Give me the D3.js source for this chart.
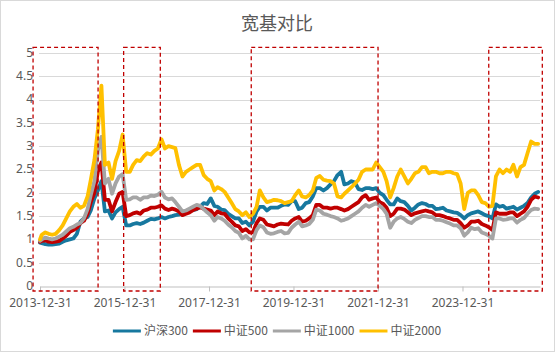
<!DOCTYPE html>
<html>
<head>
<meta charset="utf-8">
<script src="https://cdn.jsdelivr.net/npm/d3@7"></script>
<style>
  body { margin: 0; background: #fff; }
  svg { display: block; font-family: "Noto Sans CJK SC", "Noto Sans", sans-serif; }
  .num { font-family: "Noto Sans", sans-serif; font-size: 12px; }
</style>
</head>
<body>
<svg id="chart" width="555" height="352"></svg>
<script>
// monthly samples: first point 2013-12-31, then the 15th of each month to 2025-10
const dates = [new Date(2013, 11, 31)];
for (let yr = 2014; yr <= 2025; yr++) {
  for (let mo = 0; mo < 12; mo++) {
    if (yr === 2025 && mo > 9) break;
    dates.push(new Date(yr, mo, 15));
  }
}

const hs300 = [0.93,
  0.92, 0.90, 0.89, 0.89, 0.90, 0.91, 0.95, 0.98, 1.00, 1.02, 1.12, 1.38,
  1.45, 1.48, 1.62, 1.88, 2.05, 2.25, 1.60, 1.62, 1.45, 1.58, 1.65, 1.70,
  1.30, 1.30, 1.33, 1.35, 1.33, 1.36, 1.40, 1.44, 1.43, 1.45, 1.48, 1.45,
  1.48, 1.50, 1.52, 1.53, 1.55, 1.60, 1.63, 1.63, 1.65, 1.70, 1.78, 1.76,
  1.88, 1.72, 1.70, 1.64, 1.63, 1.55, 1.50, 1.45, 1.45, 1.35, 1.38, 1.30,
  1.38, 1.60, 1.70, 1.70, 1.62, 1.68, 1.68, 1.68, 1.72, 1.75, 1.74, 1.82,
  1.82, 1.65, 1.68, 1.78, 1.80, 1.92, 2.10, 2.10, 2.05, 2.10, 2.18, 2.25,
  2.38, 2.45, 2.18, 2.20, 2.25, 2.22, 2.08, 2.06, 2.10, 2.10, 2.08, 2.10,
  2.00, 1.95, 1.85, 1.75, 1.75, 1.88, 1.82, 1.80, 1.72, 1.62, 1.68, 1.75,
  1.78, 1.76, 1.72, 1.72, 1.65, 1.66, 1.68, 1.62, 1.60, 1.58, 1.57, 1.52,
  1.45, 1.52, 1.56, 1.58, 1.60, 1.56, 1.52, 1.50, 1.45, 1.75, 1.70, 1.72,
  1.66, 1.68, 1.70, 1.64, 1.68, 1.72, 1.78, 1.90, 1.98, 2.02];

const csi500 = [0.95,
  0.97, 0.98, 0.95, 0.94, 0.95, 0.97, 1.02, 1.08, 1.16, 1.20, 1.25, 1.35,
  1.40, 1.55, 1.80, 2.00, 2.45, 2.65, 1.85, 1.85, 1.60, 1.80, 1.98, 2.02,
  1.50, 1.52, 1.56, 1.58, 1.55, 1.62, 1.64, 1.68, 1.68, 1.70, 1.73, 1.66,
  1.63, 1.66, 1.64, 1.60, 1.52, 1.55, 1.58, 1.63, 1.66, 1.69, 1.66, 1.64,
  1.62, 1.52, 1.60, 1.56, 1.55, 1.45, 1.38, 1.30, 1.28, 1.18, 1.22, 1.15,
  1.15, 1.35, 1.45, 1.42, 1.32, 1.30, 1.28, 1.32, 1.34, 1.33, 1.32, 1.40,
  1.45, 1.48, 1.38, 1.40, 1.45, 1.52, 1.74, 1.74, 1.68, 1.68, 1.66, 1.68,
  1.68, 1.65, 1.62, 1.65, 1.70, 1.75, 1.80, 1.90, 1.95, 1.85, 1.88, 1.90,
  1.80, 1.76, 1.68, 1.50, 1.55, 1.66, 1.66, 1.64, 1.58, 1.52, 1.56, 1.58,
  1.60, 1.62, 1.60, 1.58, 1.52, 1.52, 1.50, 1.47, 1.45, 1.42, 1.42, 1.35,
  1.25, 1.30, 1.38, 1.38, 1.40, 1.33, 1.30, 1.26, 1.20, 1.58, 1.55, 1.55,
  1.55, 1.58, 1.58, 1.50, 1.55, 1.60, 1.70, 1.85, 1.92, 1.90];

const csi1000 = [0.97,
  1.00, 1.04, 1.02, 1.00, 1.02, 1.06, 1.10, 1.17, 1.24, 1.27, 1.32, 1.35,
  1.45, 1.65, 1.95, 2.25, 2.90, 3.20, 2.20, 2.30, 1.98, 2.20, 2.35, 2.40,
  1.85, 1.86, 1.90, 1.90, 1.85, 1.90, 1.90, 1.94, 1.93, 1.96, 2.02, 1.90,
  1.86, 1.88, 1.80, 1.70, 1.60, 1.62, 1.66, 1.70, 1.74, 1.72, 1.65, 1.58,
  1.52, 1.40, 1.48, 1.45, 1.40, 1.32, 1.26, 1.18, 1.14, 1.02, 1.08, 1.00,
  1.00, 1.20, 1.30, 1.26, 1.15, 1.12, 1.13, 1.16, 1.18, 1.13, 1.14, 1.25,
  1.32, 1.38, 1.28, 1.30, 1.33, 1.42, 1.64, 1.62, 1.55, 1.53, 1.50, 1.48,
  1.45, 1.40, 1.42, 1.45, 1.50, 1.55, 1.60, 1.68, 1.74, 1.70, 1.74, 1.78,
  1.72, 1.65, 1.55, 1.25, 1.38, 1.45, 1.48, 1.44, 1.38, 1.35, 1.42, 1.46,
  1.50, 1.50, 1.48, 1.48, 1.42, 1.42, 1.40, 1.37, 1.34, 1.30, 1.30, 1.24,
  1.08, 1.15, 1.25, 1.22, 1.24, 1.15, 1.12, 1.08, 1.02, 1.45, 1.45, 1.42,
  1.43, 1.45, 1.45, 1.36, 1.42, 1.46, 1.55, 1.63, 1.66, 1.65];

const csi2000 = [1.00,
  1.10, 1.15, 1.12, 1.10, 1.12, 1.20, 1.30, 1.45, 1.60, 1.70, 1.76, 1.68,
  1.72, 1.92, 2.28, 2.70, 3.35, 4.30, 2.60, 2.65, 2.30, 2.68, 2.90, 3.25,
  2.45, 2.45, 2.60, 2.70, 2.68, 2.78, 2.85, 2.82, 2.90, 2.95, 3.15, 2.95,
  3.00, 2.98, 2.96, 2.60, 2.35, 2.45, 2.50, 2.55, 2.60, 2.60, 2.38, 2.30,
  2.25, 2.05, 2.12, 2.08, 2.02, 1.90, 1.78, 1.65, 1.60, 1.52, 1.58, 1.48,
  1.55, 1.70, 2.05, 1.90, 1.80, 1.82, 1.85, 1.84, 1.82, 1.78, 1.80, 1.82,
  1.95, 2.05, 1.92, 1.90, 1.95, 2.05, 2.32, 2.36, 2.28, 2.26, 2.25, 2.20,
  1.92, 1.90, 1.98, 2.05, 2.12, 2.20, 2.28, 2.45, 2.50, 2.50, 2.50, 2.65,
  2.55, 2.45, 2.25, 1.90, 2.10, 2.35, 2.50, 2.35, 2.20, 2.30, 2.42, 2.45,
  2.55, 2.55, 2.42, 2.45, 2.45, 2.42, 2.42, 2.45, 2.45, 2.42, 2.40, 2.20,
  1.65, 2.00, 2.05, 2.05, 1.95, 1.80, 1.78, 1.70, 1.72, 2.35, 2.50, 2.42,
  2.50, 2.45, 2.60, 2.35, 2.55, 2.60, 2.85, 3.10, 3.05, 3.05];

const seriesNames = ['沪深300', '中证500', '中证1000', '中证2000'];
const seriesColors = ['#17789f', '#c00000', '#a5a5a5', '#ffc000'];
const seriesValues = [hs300, csi500, csi1000, csi2000];

const yTicks = [0, 0.5, 1, 1.5, 2, 2.5, 3, 3.5, 4, 4.5, 5];
const xTickLabels = ['2013-12-31', '2015-12-31', '2017-12-31', '2019-12-31', '2021-12-31', '2023-12-31'];

// dashed highlight boxes: [start, end] dates
const boxPeriods = [
  ['2013-11-01', '2015-05-17'],
  ['2015-12-24', '2016-11-05'],
  ['2018-12-31', '2021-12-31'],
  ['2024-08-14', '2025-11-20']
];

const parse = d3.timeParse('%Y-%m-%d');
const textColor = '#595959';

const svg = d3.select('#chart');
const width = 555;
const height = 352;

svg.append('rect')
  .attr('x', 0.5).attr('y', 0.5)
  .attr('width', width - 1).attr('height', height - 1)
  .attr('fill', '#fff')
  .attr('stroke', '#d9d9d9');

const x = d3.scaleTime()
  .domain([parse('2013-12-31'), parse('2025-10-31')])
  .range([40, 540]);

const y = d3.scaleLinear()
  .domain([0, 5])
  .range([286, 53]);

// title
svg.append('text')
  .attr('x', 277)
  .attr('y', 30)
  .attr('text-anchor', 'middle')
  .attr('fill', textColor)
  .style('font-size', '18px')
  .text('宽基对比');

// gridlines
svg.append('g')
  .selectAll('line')
  .data(yTicks.filter(d => d > 0))
  .enter()
  .append('line')
  .attr('x1', 39)
  .attr('x2', 540)
  .attr('y1', d => Math.round(y(d)) + 0.5)
  .attr('y2', d => Math.round(y(d)) + 0.5)
  .attr('stroke', '#d9d9d9');

// y labels
svg.append('g')
  .selectAll('text')
  .data(yTicks)
  .enter()
  .append('text')
  .attr('class', 'num')
  .attr('x', 33)
  .attr('y', d => y(d) - 0.5)
  .attr('dy', '0.36em')
  .attr('text-anchor', 'end')
  .attr('fill', textColor)
  .text(d => d);

// x axis
const xAxis = svg.append('g')
  .attr('transform', `translate(0, ${Math.round(y(0)) + 0.5})`)
  .call(d3.axisBottom(x)
    .tickValues(xTickLabels.map(parse))
    .tickFormat(d3.timeFormat('%Y-%m-%d'))
    .tickSize(5)
    .tickSizeOuter(0));

xAxis.select('.domain').attr('stroke', '#bfbfbf');
xAxis.selectAll('.tick line').attr('stroke', '#bfbfbf');
xAxis.selectAll('.tick text')
  .attr('class', 'num')
  .attr('fill', textColor)
  .attr('y', 11.5)
  .style('font-size', '12px')
  .style('font-family', '"Noto Sans", sans-serif');

// series lines
const line = d3.line()
  .x((d, i) => x(dates[i]))
  .y(d => y(d));

svg.append('g')
  .selectAll('path')
  .data(seriesValues)
  .enter()
  .append('path')
  .attr('d', line)
  .attr('fill', 'none')
  .attr('stroke', (d, i) => seriesColors[i])
  .attr('stroke-width', 3.8)
  .attr('stroke-linejoin', 'round')
  .attr('stroke-linecap', 'round');

// highlight boxes
svg.append('g')
  .selectAll('rect')
  .data(boxPeriods)
  .enter()
  .append('rect')
  .attr('x', d => x(parse(d[0])))
  .attr('y', y(5.12))
  .attr('width', d => x(parse(d[1])) - x(parse(d[0])))
  .attr('height', y(-0.107) - y(5.12))
  .attr('fill', 'none')
  .attr('stroke', '#c00000')
  .attr('stroke-width', 1.3)
  .attr('stroke-dasharray', '4,3');

// legend
const legend = svg.append('g');
let lx = 0;
seriesNames.forEach((name, i) => {
  const item = legend.append('g').attr('transform', `translate(${lx}, 0)`);
  item.append('line')
    .attr('x1', 0).attr('x2', 28)
    .attr('y1', 0).attr('y2', 0)
    .attr('stroke', seriesColors[i])
    .attr('stroke-width', 3);
  const t = item.append('text')
    .attr('x', 31)
    .attr('y', 0)
    .attr('dy', '0.36em')
    .attr('fill', textColor)
    .style('font-size', '12px')
    .text(name);
  lx += 31 + t.node().getComputedTextLength() + 5;
});
legend.attr('transform', `translate(${277 - (lx - 5) / 2}, 331)`);
</script>
</body>
</html>
